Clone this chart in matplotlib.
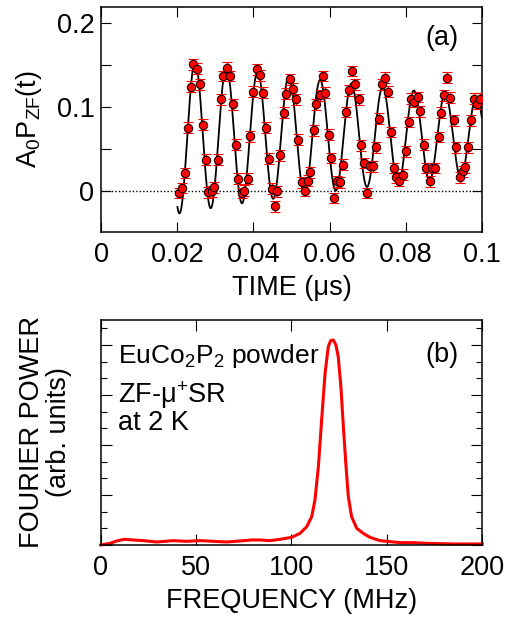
import numpy as np
import matplotlib
matplotlib.use("Agg")
import matplotlib.pyplot as plt
from matplotlib.ticker import FixedLocator, FixedFormatter, NullFormatter

plt.rcParams['font.family'] = ['Liberation Sans', 'DejaVu Sans']
plt.rcParams['mathtext.fontset'] = 'custom'
plt.rcParams['mathtext.rm'] = 'Liberation Sans'
plt.rcParams['mathtext.it'] = 'Liberation Sans:italic'
plt.rcParams['mathtext.bf'] = 'Liberation Sans:bold'

# ---------------- data: panel (a) ----------------
time_us = [0.02045, 0.02116, 0.02203, 0.0229, 0.02353, 0.02421, 0.02526, 0.02597, 0.02668, 0.02755,
           0.02816, 0.02905, 0.02974, 0.03079, 0.0314, 0.0321, 0.033, 0.03387, 0.03458, 0.03545,
           0.03605, 0.03695, 0.03763, 0.03853, 0.03921, 0.04, 0.04089, 0.04176, 0.04247, 0.04316,
           0.04395, 0.04474, 0.04553, 0.04616, 0.04703, 0.04789, 0.0486, 0.04947, 0.05037, 0.05105,
           0.05176, 0.05263, 0.05353, 0.05421, 0.05492, 0.05579, 0.0565, 0.05737, 0.05816, 0.05887,
           0.05974, 0.06045, 0.06124, 0.06195, 0.06282, 0.06353, 0.0644, 0.0650, 0.0659, 0.06676,
           0.06763, 0.06826, 0.06895, 0.06984, 0.07053, 0.07142, 0.07229, 0.0729, 0.07379, 0.07466,
           0.07537, 0.07616, 0.07684, 0.07755, 0.07834, 0.07921, 0.08018, 0.08079, 0.08142, 0.08229,
           0.08316, 0.08387, 0.08474, 0.08545, 0.08632, 0.08695, 0.08782, 0.08868, 0.08939, 0.09018,
           0.09089, 0.09176, 0.09263, 0.09334, 0.09421, 0.0951, 0.09571, 0.09632, 0.09721, 0.09789,
           0.09879, 0.09966]
asym = [-0.003, 0.003, 0.021, 0.075, 0.124, 0.151, 0.146, 0.127, 0.079, 0.037,
        -0.002, -0.001, 0.004, 0.037, 0.109, 0.137, 0.147, 0.137, 0.103, 0.055,
        0.014, -0.003, 0.000, 0.014, 0.065, 0.118, 0.145, 0.138, 0.117, 0.075,
        0.038, 0.002, -0.019, -0.001, 0.042, 0.093, 0.116, 0.133, 0.122, 0.109,
        0.061, 0.010, 0.000, 0.012, 0.022, 0.072, 0.103, 0.114, 0.137, 0.117,
        0.067, 0.039, -0.009, 0.011, 0.010, 0.031, 0.094, 0.120, 0.143, 0.127,
        0.109, 0.054, 0.033, -0.003, 0.029, 0.029, 0.052, 0.086, 0.127, 0.135,
        0.118, 0.070, 0.027, 0.016, 0.012, 0.019, 0.047, 0.082, 0.110, 0.106,
        0.112, 0.095, 0.055, 0.027, 0.011, 0.027, 0.027, 0.064, 0.093, 0.114,
        0.135, 0.111, 0.084, 0.052, 0.016, 0.023, 0.028, 0.052, 0.084, 0.110,
        0.104, 0.110]
asym_err = 0.0065

# fit parameters (damped oscillation)
fit_baseline = 0.065
fit_amp = 0.11
fit_freq_MHz = 121.7
fit_t_peak = 0.02466
fit_lambda = 8.5
fit_t_start, fit_t_end = 0.0200, 0.1

time_ticks = [0, 0.02, 0.04, 0.06, 0.08, 0.1]
time_ticklabels = ['0', '0.02', '0.04', '0.06', '0.08', '0.1']
asym_ticks = [0, 0.1, 0.2]
asym_ticklabels = ['0', '0.1', '0.2']

# ---------------- data: panel (b) ----------------
freq_MHz = [0, 4.9, 8.4, 12.2, 17.1, 22.4, 29.3, 38.1, 45.1, 52.1, 59, 66, 73, 79.1, 83.5,
            88.7, 94, 100.1, 104.5, 108, 110.6, 112.3, 114.1, 115.8, 117.6, 119.3, 120.5,
            121.9, 123.3, 124.5, 125.9, 127.2, 128.6, 129.8, 131.5, 134.2, 137.6, 141.1,
            146.4, 151.6, 156.9, 163.9, 170.9, 177.8, 184.8, 191.8, 200]
fourier_power = [0, 0.1, 0.24, 0.34, 0.3, 0.26, 0.18, 0.26, 0.22, 0.26, 0.22, 0.18, 0.24, 0.3, 0.3,
                 0.26, 0.34, 0.46, 0.7, 1.1, 1.7, 2.7, 4.7, 7.5, 10.3, 11.9, 12.26,
                 12.3, 12.0, 11.3, 9.5, 7.1, 4.7, 2.9, 1.7, 1.0, 0.7, 0.46,
                 0.26, 0.2, 0.14, 0.14, 0.1, 0.08, 0.06, 0.06, 0.06]
freq_ticks = [0, 50, 100, 150, 200]
freq_ticklabels = ['0', '50', '100', '150', '200']

FS = 19.5

fig = plt.figure(figsize=(5.18, 6.2), dpi=100)
ax1 = fig.add_axes([0.1956, 0.6253, 0.9300 - 0.1956, 0.9892 - 0.6253])
ax2 = fig.add_axes([0.1944, 0.1210, 0.9310 - 0.1944, 0.4839 - 0.1210])

# ---- panel (a)
tf = np.linspace(fit_t_start, fit_t_end, 1500)
fit_curve = fit_baseline + fit_amp * np.exp(-fit_lambda * tf) * np.cos(2 * np.pi * fit_freq_MHz * (tf - fit_t_peak))
ax1.axhline(0, color='k', ls=(0, (1, 1.5)), lw=1.0, zorder=1)
ax1.plot(tf, fit_curve, color='k', lw=1.3, zorder=2)
ax1.errorbar(time_us, asym, yerr=asym_err, fmt='o', ms=6.0, mfc='#ff0000', mec='#200000',
             mew=0.8, ecolor='#ff0000', elinewidth=1.0, capsize=3.6, capthick=1.0, zorder=3)
ax1.set_xlim(0, 0.1)
ax1.set_ylim(-0.05, 0.22)
ax1.xaxis.set_major_locator(FixedLocator(time_ticks))
ax1.xaxis.set_major_formatter(FixedFormatter(time_ticklabels))
ax1.yaxis.set_major_locator(FixedLocator(asym_ticks))
ax1.yaxis.set_major_formatter(FixedFormatter(asym_ticklabels))
ax1.yaxis.set_minor_locator(FixedLocator([0.05, 0.15]))
ax1.yaxis.set_minor_formatter(NullFormatter())
ax1.tick_params(axis='both', which='both', direction='in', top=True, right=True,
                length=7.5, width=0.8, labelsize=FS, pad=7)
ax1.tick_params(axis='y', which='both', pad=5)
ax1.set_xlabel('TIME (μs)', fontsize=FS, labelpad=5)
ax1.set_ylabel(r'A$_\mathregular{0}$P$_\mathregular{ZF}$(t)', fontsize=FS)
ax1.yaxis.set_label_coords(-0.15, 0.5)
ax1.text(0.938, 0.86, '(a)', transform=ax1.transAxes, fontsize=FS, ha='right', va='center')

# ---- panel (b)
ax2.plot(freq_MHz, fourier_power, color='#ff0000', lw=2.2, solid_joinstyle='round', clip_on=False)
ax2.set_xlim(0, 200)
ax2.set_ylim(0, 13.5)
ax2.xaxis.set_major_locator(FixedLocator(freq_ticks))
ax2.xaxis.set_major_formatter(FixedFormatter(freq_ticklabels))
ax2.yaxis.set_major_locator(FixedLocator([0, 3, 6, 9, 12]))
ax2.yaxis.set_minor_locator(FixedLocator([1, 2, 4, 5, 7, 8, 10, 11, 13]))
ax2.yaxis.set_major_formatter(NullFormatter())
ax2.tick_params(axis='both', which='major', direction='in', top=True, right=True,
                length=8.0, width=0.8, labelsize=FS, pad=7)
ax2.tick_params(axis='both', which='minor', direction='in', top=True, right=True,
                length=4.3, width=0.8)
ax2.set_xlabel('FREQUENCY (MHz)', fontsize=FS, labelpad=5.5)
ax2.set_ylabel('FOURIER POWER\n(arb. units)', fontsize=FS, linespacing=1.05)
ax2.yaxis.set_label_coords(-0.075, 0.5)
ax2.text(0.938, 0.845, '(b)', transform=ax2.transAxes, fontsize=FS, ha='right', va='center')
ax2.text(0.046, 0.810, r'EuCo$_\mathregular{2}$P$_\mathregular{2}$ powder', transform=ax2.transAxes,
         fontsize=19, ha='left', va='baseline')
ax2.text(0.046, 0.630, r'ZF-μ$^\mathregular{+}$SR', transform=ax2.transAxes,
         fontsize=FS, ha='left', va='baseline')
ax2.text(0.046, 0.511, 'at 2 K', transform=ax2.transAxes,
         fontsize=FS, ha='left', va='baseline')

for ax in (ax1, ax2):
    for s in ax.spines.values():
        s.set_linewidth(1.1)

fig.savefig('out.png', dpi=100)
